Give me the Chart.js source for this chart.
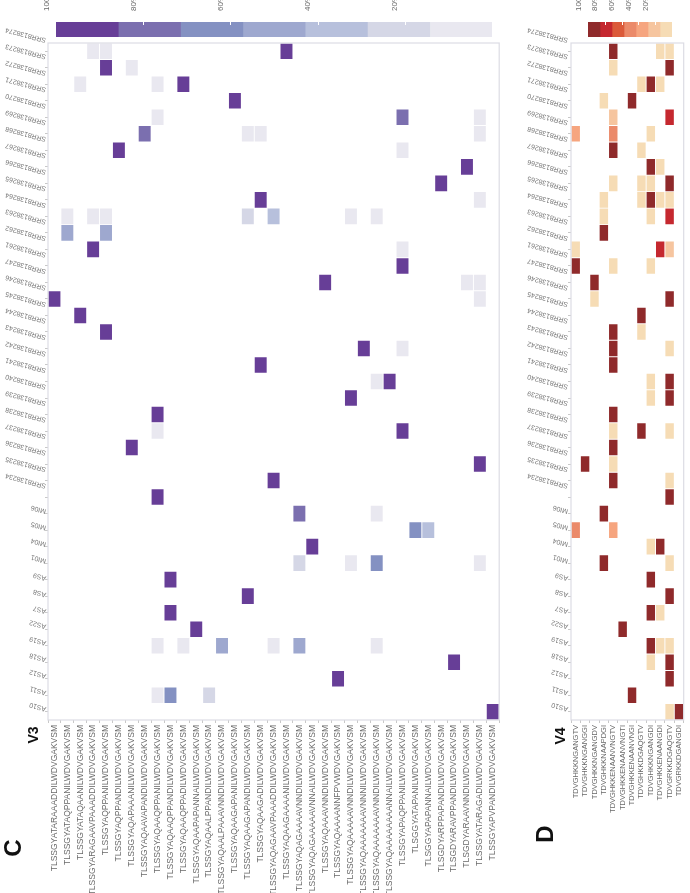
<!DOCTYPE html>
<html lang="en">
<head>
<meta charset="UTF-8">
<title>V3 / V4 variant heatmaps</title>
<style>
  body { margin: 0; background: #fff; width: 690px; height: 893px; overflow: hidden; position: relative;
         font-family: "Liberation Sans", Arial, sans-serif; }
  canvas { position: absolute; top: 0; }
  #heatC, #barC { left: 0; }
  #heatD, #barD { left: 510px; }
  .tag { position: absolute; font-weight: bold; color: #111; line-height: 1; white-space: nowrap;
         transform: translate(-50%, -50%) rotate(-90deg); }
</style>
</head>
<body>

<canvas id="heatC" width="505" height="893"></canvas>
<canvas id="heatD" width="180" height="893"></canvas>
<canvas id="barC" width="505" height="40"></canvas>
<canvas id="barD" width="180" height="40"></canvas>

<div class="tag" style="left:13px; top:848px; font-size:24px;">C</div>
<div class="tag" style="left:33px; top:735px; font-size:14px;">V3</div>
<div class="tag" style="left:545px; top:834px; font-size:24px;">D</div>
<div class="tag" style="left:560px; top:736px; font-size:14px;">V4</div>

<script src="https://cdn.jsdelivr.net/npm/chart.js"></script>
<script>
    // samples (rows, top to bottom)
    const samples = [
        'SRR8138274', 'SRR8138273', 'SRR8138272', 'SRR8138271', 'SRR8138270', 'SRR8138269', 'SRR8138268',
        'SRR8138267', 'SRR8138266', 'SRR8138265', 'SRR8138264', 'SRR8138263', 'SRR8138262', 'SRR8138261',
        'SRR8138247', 'SRR8138246', 'SRR8138245', 'SRR8138244', 'SRR8138243', 'SRR8138242', 'SRR8138241',
        'SRR8138240', 'SRR8138239', 'SRR8138238', 'SRR8138237', 'SRR8138236', 'SRR8138235', 'SRR8138234',
        'MI06', 'MI05', 'MI04', 'MI01', 'AS9', 'AS8', 'AS7', 'AS22', 'AS19', 'AS18', 'AS12', 'AS11', 'AS10'
    ];

    // V3 loop variants (columns)
    const v3Seqs = [
        'TLSSGYATARAAADDILWDVGAKVSM', 'TLSSGYATAQPPANILWDVGAKVSM', 'TLSSGYATAQAANILWDVGAKVSM',
        'TLSSGYARAGAAVPAAADDILWDVGAKVSM', 'TLSSGYAQPPANILWDVGAKVSM', 'TLSSGYAQPPANDILWDVGAKVSM',
        'TLSSGYAQAPAAANILWDVGAKVSM', 'TLSSGYAQAAVAPANDILWDVGAKVSM', 'TLSSGYAQAAQPPANILWDVGAKVSM',
        'TLSSGYAQAAQPPANDILWDVGAKVSM', 'TLSSGYAQAAQPPADILWDVGAKVSM', 'TLSSGYAQAAPAPANNAILWDVGAKVSM',
        'TLSSGYAQAALPPANDILWDVGAKVSM', 'TLSSGYAQAALPAAAVNNDILWDVGAKVSM', 'TLSSGYAQAAGAPANILWDVGAKVSM',
        'TLSSGYAQAAGAPANDILWDVGAKVSM', 'TLSSGYAQAAGADILWDVGAKVSM', 'TLSSGYAQAGAAVPAAADDILWDVGAKVSM',
        'TLSSGYAQAAGAAAANILWDVGAKVSM', 'TLSSGYAQAGAAAAVNNDILWDVGAKVSM', 'TLSSGYAQAGAAAAAVNNAILWDVGAKVSM',
        'TLSSGYAQAAAVNNDILWDVGAKVSM', 'TLSSGYAQAAAANNFPVWDVGAKVSM', 'TLSSGYAQAAAAAVNNDILWDVGAKVSM',
        'TLSSGYAQAAAAAAAVNNNILWDVGAKVSM', 'TLSSGYAQAAAAAAAVNNDILWDVGAKVSM', 'TLSSGYAQAAAAAAAANNAILWDVGAKVSM',
        'TLSSGYAPAQPPANILWDVGAKVSM', 'TLSGGYATAPANILWDVGAKVSM', 'TLSGGYAPAPANNAILWDVGAKVSM',
        'TLSGDYARPPAPANDILWDVGAKVSM', 'TLSGDYARAVPPANDILWDVGAKVSM', 'TLSGDYARAAVNNDILWDVGAKVSM',
        'TLSSGYATARAGADILWDVGAKVSM', 'TLSSGYAPVPANDILWDVGAKVSM'
    ];

    // V4 loop variants (columns)
    const v4Seqs = [
        'TDVGHKKNGANGTV', 'TDVGHKKNGANGGI', 'TDVGHKKNGANGDV', 'TDVGHKKNAAPDGI',
        'TDVGHKKENAANVNGTV', 'TDVGHKKENAANVNGTI', 'TDVGHKKENAANVNGI', 'TDVGHKKDGAQGTV',
        'TDVGHKKNGANGDI', 'TDVGHKKENAANGDI', 'TDVGRKKDGAQGTV', 'TDVGRKKDGANGDI'
    ];

    // non-empty cells: [sample row, variant column, percent]
    const v3Cells = [
        [0, 3, 6], [0, 4, 6], [0, 18, 88],
        [1, 4, 92], [1, 6, 8],
        [2, 2, 5], [2, 8, 5], [2, 10, 90],
        [3, 14, 100],
        [4, 8, 8], [4, 27, 80], [4, 33, 10],
        [5, 7, 78], [5, 15, 6], [5, 16, 6], [5, 33, 8],
        [6, 5, 92], [6, 27, 8],
        [7, 32, 100],
        [8, 30, 100],
        [9, 16, 93], [9, 33, 7],
        [10, 1, 8], [10, 3, 7], [10, 4, 7], [10, 15, 22], [10, 17, 35], [10, 23, 10], [10, 25, 10],
        [11, 1, 50], [11, 4, 50],
        [12, 3, 91], [12, 27, 9],
        [13, 27, 100],
        [14, 21, 88], [14, 32, 6], [14, 33, 6],
        [15, 0, 93], [15, 33, 7],
        [16, 2, 100],
        [17, 4, 100],
        [18, 24, 91], [18, 27, 9],
        [19, 16, 100],
        [20, 25, 9], [20, 26, 91],
        [21, 23, 100],
        [22, 8, 100],
        [23, 8, 8], [23, 27, 92],
        [24, 6, 100],
        [25, 33, 100],
        [26, 17, 100],
        [27, 8, 100],
        [28, 19, 84], [28, 25, 12],
        [29, 28, 63], [29, 29, 37],
        [30, 20, 100],
        [31, 19, 20], [31, 23, 8], [31, 25, 64], [31, 33, 8],
        [32, 9, 100],
        [33, 15, 100],
        [34, 9, 100],
        [35, 11, 100],
        [36, 8, 3], [36, 10, 3], [36, 13, 44], [36, 17, 3], [36, 19, 44], [36, 25, 3],
        [37, 31, 100],
        [38, 22, 100],
        [39, 8, 8], [39, 9, 70], [39, 12, 22],
        [40, 34, 100]
    ];

    const v4Cells = [
        [0, 4, 88], [0, 9, 6], [0, 10, 6],
        [1, 4, 10], [1, 10, 90],
        [2, 7, 8], [2, 8, 86], [2, 9, 6],
        [3, 3, 10], [3, 6, 90],
        [4, 4, 22], [4, 10, 78],
        [5, 0, 35], [5, 4, 55], [5, 8, 10],
        [6, 4, 90], [6, 7, 10],
        [7, 8, 90], [7, 9, 10],
        [8, 4, 4], [8, 7, 5], [8, 8, 4], [8, 10, 87],
        [9, 3, 4], [9, 7, 4], [9, 8, 86], [9, 9, 3], [9, 10, 3],
        [10, 3, 8], [10, 8, 8], [10, 10, 84],
        [11, 3, 100],
        [12, 0, 10], [12, 9, 72], [12, 10, 18],
        [13, 0, 88], [13, 4, 6], [13, 8, 6],
        [14, 2, 100],
        [15, 2, 10], [15, 10, 90],
        [16, 7, 100],
        [17, 4, 90], [17, 7, 10],
        [18, 4, 90], [18, 10, 10],
        [19, 4, 100],
        [20, 8, 10], [20, 10, 90],
        [21, 8, 10], [21, 10, 90],
        [22, 4, 100],
        [23, 4, 8], [23, 7, 86], [23, 10, 6],
        [24, 4, 100],
        [25, 1, 90], [25, 4, 10],
        [26, 4, 90], [26, 10, 10],
        [27, 10, 100],
        [28, 3, 100],
        [29, 0, 56], [29, 4, 42],
        [30, 8, 10], [30, 9, 90],
        [31, 3, 90], [31, 10, 10],
        [32, 8, 100],
        [33, 10, 100],
        [34, 8, 90], [34, 9, 10],
        [35, 5, 100],
        [36, 8, 88], [36, 9, 6], [36, 10, 6],
        [37, 8, 10], [37, 10, 90],
        [38, 10, 100],
        [39, 6, 100],
        [40, 10, 10], [40, 11, 90]
    ];

    // 7 colour steps, from 100% down to 0%
    const purpleSteps = ['#673e97', '#7b6faf', '#8491c2', '#9ea8cf', '#b7c0dc', '#d5d7e6', '#e9e8f0'];
    const redSteps = ['#8f2a2b', '#c5282f', '#db5a3a', '#eb8a6a', '#f6a57f', '#f6c59f', '#f6dcb5'];
    const scaleTicks = [100, 80, 60, 40, 20];

    Chart.defaults.font.family = '"Liberation Sans", Arial, sans-serif';

    function stepColor(steps, v) {
        const i = Math.min(steps.length - 1, Math.floor((100 - v) / (100 / steps.length)));
        return steps[i];
    }

    // one floating-bar dataset per sample row
    function rowDatasets(cells, steps, nCols) {
        return samples.map((name, r) => {
            const data = new Array(nCols).fill(null);
            const colors = new Array(nCols).fill('rgba(0,0,0,0)');
            cells.filter(c => c[0] === r).forEach(([row, col, v]) => {
                data[col] = [row - 0.5, row + 0.5];
                colors[col] = stepColor(steps, v);
            });
            return {
                label: name,
                data: data,
                backgroundColor: colors,
                borderColor: 'rgba(255,255,255,0.35)',
                borderWidth: 0.8,
                borderSkipped: false,
                grouped: false,
                barPercentage: 1,
                categoryPercentage: 1
            };
        });
    }

    const frame = {
        id: 'frame',
        afterDraw(chart) {
            const {ctx, chartArea: a} = chart;
            ctx.save();
            ctx.strokeStyle = '#dcdce4';
            ctx.lineWidth = 1.2;
            ctx.strokeRect(a.left, a.top, a.right - a.left, a.bottom - a.top);
            ctx.restore();
        }
    };

    // slanted, upside-down sample names next to each row
    const sampleLabels = {
        id: 'sampleLabels',
        afterDraw(chart, args, opts) {
            const {ctx} = chart;
            const y = chart.scales.y;
            ctx.save();
            ctx.font = '7px "Liberation Sans", Arial, sans-serif';
            ctx.fillStyle = '#7a7a7a';
            ctx.textAlign = 'left';
            ctx.textBaseline = 'middle';
            samples.forEach((name, i) => {
                const w = ctx.measureText(name).width;
                ctx.save();
                ctx.translate(opts.x, y.getPixelForValue(i) + 3 - 0.33 * w);
                ctx.rotate(Math.PI * 195 / 180);
                ctx.fillText(name, 0, 0);
                ctx.restore();
            });
            ctx.restore();
        }
    };

    function heatmap(id, seqs, cells, steps, area) {
        return new Chart(document.getElementById(id), {
            type: 'bar',
            data: { labels: seqs, datasets: rowDatasets(cells, steps, seqs.length) },
            options: {
                responsive: false,
                animation: false,
                layout: { padding: { top: area.top, right: area.right, left: 0, bottom: 0 } },
                plugins: {
                    legend: { display: false },
                    tooltip: { enabled: false },
                    sampleLabels: { x: area.labelX }
                },
                scales: {
                    x: {
                        grid: { drawOnChartArea: false, tickLength: 3, color: '#c8c8c8' },
                        border: { display: false },
                        ticks: { autoSkip: false, minRotation: 90, maxRotation: 90, padding: 2,
                                 color: '#6a6a6a', font: { size: area.fontSize } },
                        afterFit: s => { s.height = 893 - area.bottom; }
                    },
                    y: {
                        min: -0.5,
                        max: samples.length - 0.5,
                        reverse: true,
                        afterBuildTicks: s => { s.ticks = samples.map((_, i) => ({ value: i })); },
                        ticks: { display: false },
                        grid: { drawOnChartArea: false, tickLength: 3, color: '#c8c8c8' },
                        border: { display: false },
                        afterFit: s => { s.width = area.left; }
                    }
                }
            },
            plugins: [frame, sampleLabels]
        });
    }

    // small white marks inside the colour bar
    const barMarks = {
        id: 'barMarks',
        afterDatasetsDraw(chart) {
            const {ctx, chartArea: a} = chart;
            const x = chart.scales.x;
            ctx.save();
            ctx.strokeStyle = '#fff';
            ctx.lineWidth = 1;
            scaleTicks.filter(v => v < 100).forEach(v => {
                const px = Math.round(x.getPixelForValue(v)) + 0.5;
                ctx.beginPath();
                ctx.moveTo(px, a.top);
                ctx.lineTo(px, a.top + 3);
                ctx.stroke();
            });
            ctx.restore();
        }
    };

    function colorBar(id, steps, area) {
        const w = 100 / steps.length;
        return new Chart(document.getElementById(id), {
            type: 'bar',
            data: {
                labels: [''],
                datasets: steps.map((col, i) => ({
                    data: [[100 - (i + 1) * w, 100 - i * w]],
                    backgroundColor: col,
                    grouped: false,
                    barPercentage: 1,
                    categoryPercentage: 1
                }))
            },
            options: {
                indexAxis: 'y',
                responsive: false,
                animation: false,
                layout: { padding: { left: area.left, right: area.right, top: 0, bottom: area.bottom } },
                plugins: { legend: { display: false }, tooltip: { enabled: false } },
                scales: {
                    x: {
                        position: 'top',
                        min: 0,
                        max: 100,
                        reverse: true,
                        afterBuildTicks: s => { s.ticks = scaleTicks.map(v => ({ value: v })); },
                        ticks: { minRotation: 90, maxRotation: 90, padding: 3, color: '#6a6a6a',
                                 font: { size: area.fontSize }, callback: v => v + '%' },
                        grid: { display: false },
                        border: { display: false },
                        afterFit: s => { s.height = area.top; }
                    },
                    y: { display: false }
                }
            },
            plugins: [barMarks]
        });
    }

    heatmap('heatC', v3Seqs, v3Cells, purpleSteps, { top: 43, bottom: 720, left: 48, right: 4, labelX: 46, fontSize: 8.5 });
    heatmap('heatD', v4Seqs, v4Cells, redSteps, { top: 43, bottom: 720, left: 61, right: 0, labelX: 58, fontSize: 7.5 });
    colorBar('barC', purpleSteps, { left: 56, right: 13, top: 22, bottom: 3, fontSize: 8 });
    colorBar('barD', redSteps, { left: 78, right: 18, top: 22, bottom: 3, fontSize: 8 });
</script>

</body>
</html>
